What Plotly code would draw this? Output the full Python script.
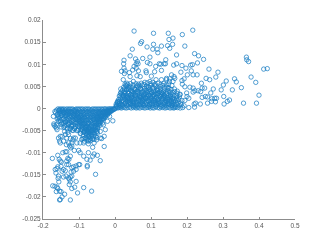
import plotly.graph_objects as go

x_sparse_right = [
 .216,.148,.187,.161,.150,.160,.146,.152,.194,.171,
 .221,.232,.246,.229,.141,.140,.171,.163,.186,.183,
 .210,.215,.197,.261,.212,.286,.280,.365,.366,.371,
 .423,.413,.378,.391,.332,.337,.309,.301,.295,.326,
 .351,.273,.263,.253,.240,.242,.249,.266,.217,.228,
 .201,.192,.186,.194,.187,.208,.217,.222,.217,.231,
 .238,.242,.251,.257,.269,.277,.282,.268,.279,.302,
 .318,.312,.303,.357,.393,.400,.257,.237,.224,.220,
 .205,.221,.166,.199,.200,.205,.194,.180,.173,.164,
 .157,.166,.152,.143,.161]
y_sparse_right = [
 .0177,.0170,.0167,.0159,.0156,.0145,.0142,.0136,.0141,.0121,
 .0124,.0119,.0111,.0103,.0110,.0101,.0101,.0098,.0097,.0082,
 .0098,.0099,.0091,.0089,.0085,.0082,.0071,.0116,.0110,.0106,
 .0090,.0089,.0071,.0059,.0067,.0060,.0062,.0053,.0042,.0042,
 .0047,.0044,.0065,.0068,.0057,.0046,.0046,.0035,.0076,.0076,
 .0076,.0067,.0063,.0049,.0055,.0048,.0046,.0040,.0037,.0040,
 .0038,.0025,.0027,.0026,.0022,.0023,.0023,.0016,.0015,.0027,
 .0019,.0016,.0010,.0012,.0012,.0030,.0012,.0010,.0012,.0010,
 .0002,.0003,.0002,.0035,.0027,.0023,.0018,.0031,.0039,.0072,
 .0076,.0068,.0067,.0068,.0061]

x_upper_mid = [
 .053,.107,.074,.071,.089,.107,.105,.117,.119,.129,
 .048,.042,.057,.062,.059,.025,.024,.097,.077,.090,
 .097,.064,.053,.025,.018,.028,.040,.049,.059,.065,
 .086,.113,.123,.136,.127,.110,.129,.061,.087,.101,
 .026,.070,.042,.023,.016,.033,.051,.083,.097,.114,
 .129,.143,.151]
y_upper_mid = [
 .0175,.0170,.0151,.0147,.0139,.0145,.0134,.0134,.0126,.0141,
 .0134,.0119,.0112,.0106,.0101,.0109,.0101,.0116,.0113,.0104,
 .0101,.0101,.0095,.0091,.0084,.0085,.0081,.0087,.0091,.0085,
 .0085,.0095,.0101,.0101,.0100,.0083,.0086,.0074,.0081,.0073,
 .0079,.0072,.0072,.0065,.0044,.0057,.0061,.0059,.0061,.0065,
 .0065,.0065,.0061]

x_dense_right = [
 .002,.005,.008,.011,.014,.018,.022,.026,.031,.036,
 .041,.045,.051,.056,.059,.064,.069,.074,.078,.083,
 .089,.093,.098,.104,.108,.113,.119,.124,.128,.133,
 .139,.144,.149,.153,.158,.163,.169,.174,.181,.188,
 .004,.009,.013,.017,.021,.027,.032,.037,.043,.047,
 .052,.058,.062,.067,.072,.077,.081,.086,.091,.096,
 .101,.106,.111,.116,.121,.126,.131,.136,.141,.146,
 .151,.156,.161,.167,.172,.178,.184,.192,.007,.012,
 .019,.024,.029,.034,.039,.044,.049,.054,.061,.066,
 .071,.076,.082,.087,.092,.097,.103,.107,.112,.118,
 .122,.127,.132,.138,.142,.147,.152,.157,.162,.168,
 .175,.182,.015,.02,.025,.03,.035,.041,.046,.05,
 .055,.06,.065,.07,.075,.08,.085,.09,.095,.1,
 .105,.11,.115,.12,.125,.13,.135,.14,.145,.15,
 .155,.16,.165,.171,.177,.186,.018,.023,.028,.033,
 .038,.043,.048,.053,.057,.063,.068,.073,.079,.084,
 .088,.094,.099,.102,.109,.114,.117,.123,.129,.134,
 .137,.143,.148,.154,.159,.164,.172,.179,.021,.027,
 .032,.037,.044,.05,.056,.062,.067,.072,.077,.083,
 .089,.095,.1,.106,.111,.118,.124,.13,.136,.141,
 .147,.153,.16,.166,.173,.181,.024,.03,.036,.042,
 .048,.054,.06,.066,.071,.076,.082,.088,.094,.1,
 .107,.113,.12,.126,.132,.138,.144,.15,.156,.165,
 .028,.035,.043,.05,.058,.065,.073,.081,.09,.098,
 .105,.112,.119,.127,.135,.142,.149,.158,.017,.022,
 .006,.003,.01,.012,.015,.007,.026,.031,.039,.047]
y_dense_right = [
 .0001,.0002,.0001,.0003,.0002,.0001,.0003,.0002,.0001,.0002,
 .0003,.0001,.0002,.0003,.0001,.0002,.0001,.0003,.0002,.0001,
 .0002,.0003,.0001,.0002,.0001,.0003,.0002,.0001,.0003,.0002,
 .0001,.0002,.0003,.0001,.0002,.0001,.0003,.0002,.0001,.0002,
 .0006,.0009,.0007,.0010,.0008,.0011,.0007,.0009,.0010,.0008,
 .0011,.0007,.0010,.0009,.0008,.0011,.0007,.0010,.0008,.0009,
 .0011,.0007,.0010,.0008,.0011,.0009,.0007,.0010,.0008,.0011,
 .0009,.0007,.0010,.0008,.0009,.0007,.0008,.0006,.0013,.0016,
 .0018,.0015,.0019,.0016,.0014,.0018,.0015,.0019,.0014,.0017,
 .0015,.0019,.0016,.0014,.0018,.0015,.0019,.0017,.0014,.0018,
 .0016,.0015,.0019,.0014,.0017,.0016,.0019,.0015,.0014,.0017,
 .0013,.0012,.0022,.0025,.0021,.0026,.0023,.0021,.0025,.0022,
 .0026,.0023,.0021,.0025,.0027,.0022,.0024,.0026,.0021,.0023,
 .0027,.0022,.0025,.0021,.0026,.0023,.0025,.0022,.0021,.0024,
 .0026,.0022,.0021,.0023,.0020,.0018,.0032,.0029,.0033,.0030,
 .0034,.0031,.0029,.0033,.0030,.0034,.0029,.0032,.0030,.0034,
 .0031,.0029,.0033,.0035,.0030,.0032,.0034,.0029,.0031,.0033,
 .0030,.0034,.0029,.0031,.0032,.0029,.0028,.0026,.0041,.0038,
 .0042,.0037,.0041,.0038,.0043,.0039,.0037,.0042,.0038,.0041,
 .0037,.0043,.0039,.0041,.0037,.0042,.0038,.0036,.0041,.0037,
 .0040,.0037,.0036,.0038,.0034,.0032,.0048,.0052,.0046,.0050,
 .0047,.0044,.0051,.0047,.0045,.0053,.0046,.0050,.0048,.0052,
 .0047,.0051,.0045,.0049,.0052,.0046,.0048,.0045,.0043,.0044,
 .0055,.0054,.0056,.0053,.0056,.0055,.0057,.0054,.0058,.0056,
 .0059,.0055,.0057,.0054,.0056,.0053,.0055,.0052,.0037,.0031,
 .0013,.0009,.0020,.0028,.0034,.0016,.0044,.0050,.0043,.0039]

x_fill_right = [
 .0035,.0125,.0215,.0335,.0425,.0545,.0635,.0755,.0845,.0965,
 .1055,.1175,.1265,.1385,.1475,.1595,.0165,.0285,.0375,.0495,
 .0585,.0705,.0795,.0915,.1005,.1125,.1215,.1335,.1425,.1545,
 .0105,.0195,.0315,.0405,.0525,.0615,.0735,.0825,.0945,.1035,
 .1155,.1245,.1365,.1455,.1575,.1665,.0235,.0355,.0445,.0565,
 .0655,.0775,.0865,.0985,.1075,.1195,.1285,.1405,.1495,.1615,
 .0275,.0365,.0485,.0575,.0695,.0785,.0905,.0995,.1115,.1205,
 .1325,.1415,.1535,.1625,.0325,.0465,.0605,.0745,.0885,.1025,
 .1165,.1305,.1445,.0395,.0555,.0715,.0875,.1045,.1185,.1345,
 .0145,.0245,.0345,.0445,.0685,.0925,.1095,.1255,.1475,.1725,
 .0505,.0625,.0815,.0955,.1135,.1295,.0455,.0675,.0855,.1065,
 .0295,.0515,.0725,.0935,.1145,.1355,.1565,.0595,.0765,.0975]
y_fill_right = [
 .0005,.0012,.0017,.0006,.0013,.0021,.0005,.0014,.0023,.0004,
 .0013,.0020,.0005,.0012,.0021,.0006,.0005,.0013,.0022,.0006,
 .0015,.0024,.0006,.0016,.0023,.0005,.0014,.0022,.0006,.0013,
 .0016,.0006,.0024,.0015,.0005,.0022,.0014,.0028,.0006,.0017,
 .0025,.0013,.0005,.0024,.0012,.0005,.0029,.0021,.0011,.0030,
 .0018,.0009,.0027,.0018,.0032,.0012,.0027,.0018,.0010,.0024,
 .0035,.0027,.0017,.0036,.0028,.0017,.0037,.0028,.0018,.0034,
 .0026,.0016,.0028,.0017,.0042,.0035,.0039,.0037,.0046,.0036,
 .0041,.0035,.0034,.0047,.0042,.0044,.0041,.0046,.0040,.0038,
 .0029,.0036,.0025,.0031,.0051,.0049,.0053,.0043,.0047,.0019,
 .0033,.0051,.0033,.0038,.0032,.0031,.0024,.0026,.0022,.0029,
 .0012,.0014,.0024,.0031,.0009,.0029,.0018,.0008,.0019,.0009]

x_sparse_left = [
 -.174,-.159,-.155,-.152,-.149,-.134,-.131,-.128,-.124,-.145,
 -.138,-.134,-.126,-.123,-.120,-.113,-.101,-.097,-.087,-.074,
 -.062,-.058,-.049,-.041,-.030,-.069,-.078,-.098,-.108,-.115,
 -.120,-.122,-.108,-.101,-.077,-.077,-.054,-.166,-.161,-.164,
 -.159,-.143,-.147,-.157,-.158,-.156,-.143,-.136,-.129,-.124,
 -.127,-.124,-.127,-.108,-.173,-.167,-.161,-.159,-.163,-.154,
 -.150,-.140,-.147,-.152,-.154,-.124,-.120,-.112,-.104,-.087,
 -.065,-.120,-.150,-.115,-.138,-.134,-.129,
 -.171,-.167,-.169,-.166,-.163,-.170,-.163,-.161,-.157,-.154,
 -.150,-.143,-.152,-.157,-.154,-.152,-.147,-.138,-.134,-.129,
 -.124,-.115,-.117,-.110,-.143,-.135,-.129,-.120,-.106,-.097,
 -.087,-.086,-.074,-.074,-.062,-.058,-.051,-.041,-.037,-.030,
 -.027,-.041,-.021,-.006,-.015,-.032,-.049]
y_sparse_left = [
 -.0113,-.0106,-.0115,-.0119,-.0121,-.0119,-.0113,-.0115,-.0108,-.0100,
 -.0098,-.0098,-.0085,-.0089,-.0085,-.0095,-.0095,-.0100,-.0108,-.0100,
 -.0108,-.0103,-.0106,-.0118,-.0086,-.0117,-.0115,-.0127,-.0130,-.0132,
 -.0134,-.0144,-.0138,-.0127,-.0129,-.0132,-.0149,-.0138,-.0136,-.0146,
 -.0132,-.0138,-.0142,-.0153,-.0158,-.0166,-.0155,-.0153,-.0157,-.0155,
 -.0160,-.0166,-.0172,-.0165,-.0175,-.0176,-.0178,-.0181,-.0188,-.0187,
 -.0188,-.0194,-.0200,-.0206,-.0207,-.0207,-.0181,-.0178,-.0191,-.0179,
 -.0187,-.0153,-.0131,-.0142,-.0141,-.0127,-.0127,
 -.0018,-.0007,-.0038,-.0041,-.0044,-.0035,-.0037,-.0048,-.0029,-.0022,
 -.0016,-.0010,-.0063,-.0067,-.0074,-.0078,-.0063,-.0059,-.0067,-.0059,
 -.0068,-.0067,-.0071,-.0067,-.0074,-.0082,-.0078,-.0078,-.0078,-.0078,
 -.0078,-.0068,-.0074,-.0080,-.0088,-.0078,-.0071,-.0067,-.0068,-.0063,
 -.0048,-.0052,-.0029,-.0028,-.0018,-.0037,-.0056]

x_dense_left = [
 -.158,-.154,-.150,-.146,-.142,-.138,-.134,-.130,-.126,-.122,
 -.118,-.114,-.110,-.106,-.102,-.098,-.094,-.090,-.086,-.082,
 -.078,-.074,-.070,-.066,-.062,-.058,-.054,-.050,-.046,-.042,
 -.038,-.034,-.030,-.026,-.022,-.018,-.014,-.010,-.006,-.002,
 -.156,-.151,-.147,-.143,-.139,-.135,-.131,-.127,-.123,-.119,
 -.115,-.111,-.107,-.103,-.099,-.095,-.091,-.087,-.083,-.079,
 -.075,-.071,-.067,-.063,-.059,-.055,-.051,-.047,-.043,-.039,
 -.035,-.031,-.027,-.023,-.019,-.015,-.011,-.007,-.003,-.001,
 -.153,-.145,-.137,-.132,-.128,-.124,-.12,-.116,-.112,-.108,
 -.104,-.1,-.096,-.092,-.088,-.084,-.08,-.076,-.072,-.068,
 -.064,-.06,-.056,-.052,-.048,-.044,-.04,-.036,-.032,-.028,
 -.024,-.02,-.016,-.012,-.008,-.148,-.14,-.133,-.127,-.121,
 -.117,-.113,-.109,-.105,-.101,-.097,-.093,-.089,-.085,-.081,
 -.077,-.073,-.069,-.065,-.061,-.057,-.053,-.049,-.045,-.041,
 -.037,-.033,-.029,-.025,-.021,-.017,-.141,-.136,-.13,-.125,
 -.12,-.115,-.11,-.105,-.1,-.096,-.092,-.088,-.084,-.08,
 -.076,-.072,-.068,-.064,-.06,-.056,-.052,-.048,-.044,-.04,
 -.036,-.032,-.028,-.138,-.132,-.126,-.12,-.114,-.108,-.103,
 -.098,-.094,-.09,-.086,-.082,-.078,-.074,-.07,-.066,-.062,
 -.058,-.054,-.05,-.046,-.042,-.15,-.144,-.136,-.129,-.122,
 -.116,-.11,-.104,-.099,-.094,-.089,-.085,-.081,-.077,-.073,
 -.069,-.065,-.061,-.056,-.051,-.046,-.16,-.152,-.142,-.133,
 -.125,-.118,-.112,-.106,-.101,-.095,-.09,-.084,-.079,-.074,
 -.07,-.064,-.059,-.054,-.048,-.165,-.158,-.149,-.14,-.131]
y_dense_left = [
 -.0001,-.0002,-.0001,-.0002,-.0001,-.0003,-.0001,-.0002,-.0001,-.0002,
 -.0001,-.0003,-.0002,-.0001,-.0002,-.0001,-.0002,-.0001,-.0003,-.0001,
 -.0002,-.0001,-.0002,-.0003,-.0001,-.0002,-.0001,-.0002,-.0001,-.0002,
 -.0001,-.0002,-.0001,-.0001,-.0002,-.0001,-.0001,-.0001,-.0001,-.0001,
 -.0005,-.0007,-.0006,-.0008,-.0006,-.0009,-.0006,-.0008,-.0007,-.0009,
 -.0006,-.0008,-.0007,-.0009,-.0006,-.0008,-.0007,-.0009,-.0006,-.0008,
 -.0007,-.0009,-.0006,-.0008,-.0007,-.0009,-.0006,-.0008,-.0007,-.0006,
 -.0008,-.0006,-.0007,-.0005,-.0006,-.0004,-.0005,-.0003,-.0002,-.0001,
 -.0011,-.0013,-.0012,-.0014,-.0012,-.0015,-.0013,-.0014,-.0012,-.0015,
 -.0013,-.0014,-.0012,-.0015,-.0013,-.0014,-.0012,-.0015,-.0013,-.0014,
 -.0012,-.0015,-.0013,-.0014,-.0012,-.0013,-.0011,-.0012,-.0010,-.0011,
 -.0009,-.0010,-.0008,-.0007,-.0005,-.0016,-.0018,-.0017,-.0019,-.0018,
 -.0020,-.0018,-.0021,-.0019,-.0020,-.0018,-.0021,-.0019,-.0020,-.0018,
 -.0021,-.0019,-.0020,-.0018,-.0021,-.0019,-.0020,-.0018,-.0019,-.0017,
 -.0018,-.0016,-.0017,-.0014,-.0013,-.0011,-.0023,-.0025,-.0023,-.0026,
 -.0024,-.0027,-.0025,-.0026,-.0024,-.0027,-.0025,-.0026,-.0024,-.0027,
 -.0025,-.0026,-.0024,-.0027,-.0025,-.0026,-.0024,-.0025,-.0023,-.0024,
 -.0022,-.0023,-.0020,-.0031,-.0029,-.0032,-.0030,-.0033,-.0031,-.0033,
 -.0030,-.0033,-.0031,-.0034,-.0032,-.0034,-.0032,-.0035,-.0033,-.0032,
 -.0034,-.0032,-.0031,-.0029,-.0030,-.0036,-.0034,-.0038,-.0036,-.0039,
 -.0038,-.0040,-.0037,-.0041,-.0039,-.0042,-.0040,-.0043,-.0041,-.0044,
 -.0042,-.0040,-.0043,-.0039,-.0037,-.0035,-.0015,-.0030,-.0043,-.0047,
 -.0045,-.0049,-.0046,-.0050,-.0047,-.0051,-.0048,-.0052,-.0049,-.0053,
 -.0048,-.0051,-.0046,-.0049,-.0044,-.0010,-.0022,-.0042,-.0052,-.0054]

x_fill_left = [
 -.1115,-.1035,-.0955,-.0885,-.0815,-.0745,-.0675,-.0605,-.0525,-.0445,
 -.1075,-.0995,-.0925,-.0855,-.0785,-.0715,-.0645,-.0565,-.0485,-.0405,
 -.1015,-.0945,-.0875,-.0805,-.0735,-.0665,-.0585,-.0505,-.0425,-.0345,
 -.0975,-.0905,-.0835,-.0765,-.0695,-.0625,-.0545,-.0465,-.0385,-.0305,
 -.0915,-.0845,-.0775,-.0705,-.0635,-.0555,-.0475,-.0395,-.0265,-.0195,
 -.0865,-.0795,-.0725,-.0655,-.0575,-.0495,-.0415,-.0325,-.0245,-.0135,
 -.1295,-.1215,-.1145,-.1065,-.0985,-.0895,-.0825,-.0755,-.0685,-.0615,
 -.0535,-.0455,-.0375,-.0285,-.0205,-.0115,-.1355,-.1255,-.1175,-.1095,
 -.1025,-.0935,-.0865,-.0785,-.0725,-.0645,-.0565,-.0495,-.0435,-.0355,
 -.0825,-.0775,-.0705,-.0665,-.0595,-.0885,-.0745,-.0615,-.0955,-.0515,
 -.1395,-.1305,-.1205,-.1125,-.1045,-.0965,-.0895,-.0345,-.0275,-.0215,
 -.0925,-.0845,-.0755,-.0685,-.0585,-.0505,-.0625,-.0535,-.0725,-.0805,
 -.1625,-.1585,-.1545,-.1505,-.1465,-.1425,-.1385,-.1345,-.1605,-.1525,
 -.1445,-.1365,-.1285,-.1205,-.1565,-.1485,-.1405,-.1325,-.1245,-.1165]
y_fill_left = [
 -.0005,-.0011,-.0016,-.0022,-.0028,-.0034,-.0030,-.0024,-.0017,-.0010,
 -.0015,-.0021,-.0028,-.0034,-.0039,-.0044,-.0037,-.0030,-.0021,-.0015,
 -.0026,-.0032,-.0037,-.0043,-.0046,-.0049,-.0042,-.0034,-.0025,-.0017,
 -.0035,-.0041,-.0046,-.0050,-.0053,-.0050,-.0044,-.0037,-.0027,-.0018,
 -.0044,-.0050,-.0054,-.0056,-.0054,-.0048,-.0041,-.0031,-.0014,-.0009,
 -.0054,-.0058,-.0060,-.0059,-.0056,-.0051,-.0038,-.0022,-.0011,-.0006,
 -.0006,-.0008,-.0016,-.0023,-.0029,-.0036,-.0044,-.0047,-.0051,-.0048,
 -.0042,-.0031,-.0019,-.0008,-.0006,-.0004,-.0016,-.0019,-.0027,-.0034,
 -.0040,-.0047,-.0053,-.0061,-.0064,-.0062,-.0059,-.0046,-.0033,-.0025,
 -.0066,-.0069,-.0070,-.0067,-.0064,-.0062,-.0058,-.0055,-.0056,-.0053,
 -.0028,-.0036,-.0041,-.0045,-.0049,-.0057,-.0068,-.0033,-.0019,-.0015,
 -.0070,-.0074,-.0072,-.0073,-.0070,-.0066,-.0069,-.0063,-.0063,-.0056,
 -.0004,-.0012,-.0005,-.0011,-.0004,-.0010,-.0016,-.0009,-.0024,-.0027,
 -.0024,-.0030,-.0034,-.0037,-.0018,-.0033,-.0040,-.0044,-.0047,-.0050]

x_tick_values = [-0.2, -0.1, 0, 0.1, 0.2, 0.3, 0.4, 0.5]
x_tick_labels = ["-0.2", "-0.1", "0", "0.1", "0.2", "0.3", "0.4", "0.5"]
y_tick_values = [-0.025, -0.02, -0.015, -0.01, -0.005, 0, 0.005, 0.01, 0.015, 0.02]
y_tick_labels = ["-0.025", "-0.02", "-0.015", "-0.01", "-0.005", "0", "0.005", "0.01", "0.015", "0.02"]

x_all = x_sparse_right + x_upper_mid + x_dense_right + x_fill_right + x_sparse_left + x_dense_left + x_fill_left
y_all = y_sparse_right + y_upper_mid + y_dense_right + y_fill_right + y_sparse_left + y_dense_left + y_fill_left

fig = go.Figure(go.Scatter(
    x=x_all, y=y_all, mode="markers",
    marker=dict(symbol="circle-open", size=4.4, color="#0072BD", line=dict(width=0.75, color="#0072BD")),
    opacity=0.9, cliponaxis=False,
))
axis_style = dict(
    showgrid=False, zeroline=False, showline=True, linecolor="#8c8c8c", linewidth=1,
    ticks="inside", ticklen=2.5, tickwidth=0.7, tickcolor="#8c8c8c",
    tickfont=dict(family="Liberation Sans", size=6.5, color="#555555"),
)
fig.update_xaxes(range=[-0.2, 0.5], tickvals=x_tick_values, ticktext=x_tick_labels, **axis_style)
fig.update_yaxes(range=[-0.025, 0.02], tickvals=y_tick_values, ticktext=y_tick_labels, **axis_style)
# the page's body margin offsets the figure by 8 px; the sizes below allow for it
fig.update_layout(
    width=319, height=237, margin=dict(l=34.5, r=31.5, t=8, b=26),
    paper_bgcolor="white", plot_bgcolor="white", showlegend=False,
)
fig.write_html("out.html")
